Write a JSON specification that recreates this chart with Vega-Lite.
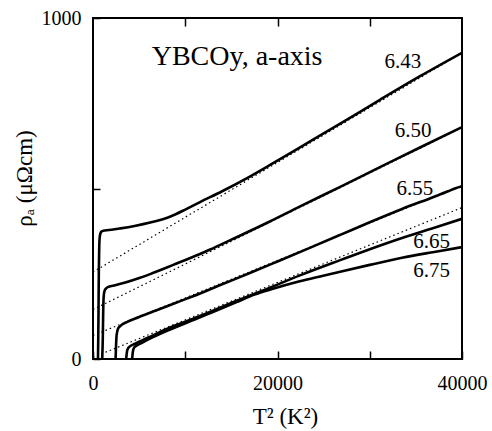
{
  "$schema": "https://vega.github.io/schema/vega-lite/v6.json",
  "width": 369,
  "height": 341,
  "autosize": {"type": "none"},
  "padding": {"left": 93, "top": 18, "right": 30, "bottom": 72},
  "background": "white",
  "config": {
    "view": {"stroke": "black", "strokeWidth": 2},
    "font": "Liberation Serif",
    "axis": {"domain": false, "grid": false, "tickColor": "black", "tickWidth": 1.5, "labelColor": "black", "titleColor": "black", "labelFont": "Liberation Serif", "titleFont": "Liberation Serif", "labelFontSize": 20, "titleFontSize": 23, "titleFontWeight": "normal"}
  },
  "datasets": {
    "solid": [
      {"s": "6.43", "x": 540, "y": 0}, {"s": "6.43", "x": 570, "y": 60}, {"s": "6.43", "x": 600, "y": 150}, {"s": "6.43", "x": 630, "y": 250}, {"s": "6.43", "x": 670, "y": 320}, {"s": "6.43", "x": 720, "y": 355}, {"s": "6.43", "x": 800, "y": 368}, {"s": "6.43", "x": 950, "y": 374}, {"s": "6.43", "x": 1300, "y": 377}, {"s": "6.43", "x": 2000, "y": 379}, {"s": "6.43", "x": 3000, "y": 383}, {"s": "6.43", "x": 4500, "y": 390}, {"s": "6.43", "x": 6200, "y": 400}, {"s": "6.43", "x": 8400, "y": 418}, {"s": "6.43", "x": 10000, "y": 438}, {"s": "6.43", "x": 11600, "y": 460}, {"s": "6.43", "x": 14000, "y": 492}, {"s": "6.43", "x": 17000, "y": 535}, {"s": "6.43", "x": 19200, "y": 569}, {"s": "6.43", "x": 22400, "y": 620}, {"s": "6.43", "x": 26800, "y": 690}, {"s": "6.43", "x": 31100, "y": 760}, {"s": "6.43", "x": 35500, "y": 830}, {"s": "6.43", "x": 40000, "y": 898},
      {"s": "6.50", "x": 1000, "y": 0}, {"s": "6.50", "x": 1060, "y": 60}, {"s": "6.50", "x": 1100, "y": 130}, {"s": "6.50", "x": 1150, "y": 180}, {"s": "6.50", "x": 1250, "y": 200}, {"s": "6.50", "x": 1450, "y": 208}, {"s": "6.50", "x": 1700, "y": 212}, {"s": "6.50", "x": 2400, "y": 216}, {"s": "6.50", "x": 3500, "y": 224}, {"s": "6.50", "x": 5100, "y": 238}, {"s": "6.50", "x": 6200, "y": 249}, {"s": "6.50", "x": 8700, "y": 276}, {"s": "6.50", "x": 11600, "y": 308}, {"s": "6.50", "x": 12700, "y": 321}, {"s": "6.50", "x": 15000, "y": 350}, {"s": "6.50", "x": 19000, "y": 401}, {"s": "6.50", "x": 22400, "y": 447}, {"s": "6.50", "x": 26800, "y": 505}, {"s": "6.50", "x": 31000, "y": 561}, {"s": "6.50", "x": 35500, "y": 621}, {"s": "6.50", "x": 40000, "y": 680},
      {"s": "6.55", "x": 2450, "y": 0}, {"s": "6.55", "x": 2500, "y": 40}, {"s": "6.55", "x": 2560, "y": 70}, {"s": "6.55", "x": 2700, "y": 88}, {"s": "6.55", "x": 2930, "y": 96}, {"s": "6.55", "x": 3650, "y": 108}, {"s": "6.55", "x": 5000, "y": 123}, {"s": "6.55", "x": 6900, "y": 143}, {"s": "6.55", "x": 9000, "y": 165}, {"s": "6.55", "x": 11600, "y": 192}, {"s": "6.55", "x": 14000, "y": 219}, {"s": "6.55", "x": 17000, "y": 252}, {"s": "6.55", "x": 20000, "y": 286}, {"s": "6.55", "x": 23500, "y": 326}, {"s": "6.55", "x": 26800, "y": 364}, {"s": "6.55", "x": 30000, "y": 401}, {"s": "6.55", "x": 33500, "y": 440}, {"s": "6.55", "x": 37000, "y": 476}, {"s": "6.55", "x": 38500, "y": 492}, {"s": "6.55", "x": 39300, "y": 501}, {"s": "6.55", "x": 40000, "y": 506},
      {"s": "6.65", "x": 3600, "y": 0}, {"s": "6.65", "x": 3640, "y": 12}, {"s": "6.65", "x": 3700, "y": 24}, {"s": "6.65", "x": 3800, "y": 31}, {"s": "6.65", "x": 4000, "y": 37}, {"s": "6.65", "x": 4500, "y": 44}, {"s": "6.65", "x": 6000, "y": 63}, {"s": "6.65", "x": 8000, "y": 88}, {"s": "6.65", "x": 11600, "y": 126}, {"s": "6.65", "x": 13000, "y": 142}, {"s": "6.65", "x": 15500, "y": 170}, {"s": "6.65", "x": 18800, "y": 205}, {"s": "6.65", "x": 22500, "y": 246}, {"s": "6.65", "x": 26800, "y": 290}, {"s": "6.65", "x": 30000, "y": 322}, {"s": "6.65", "x": 33500, "y": 355}, {"s": "6.65", "x": 37000, "y": 385}, {"s": "6.65", "x": 40000, "y": 411},
      {"s": "6.75", "x": 4250, "y": 0}, {"s": "6.75", "x": 4290, "y": 14}, {"s": "6.75", "x": 4350, "y": 26}, {"s": "6.75", "x": 4450, "y": 33}, {"s": "6.75", "x": 4650, "y": 38}, {"s": "6.75", "x": 5200, "y": 46}, {"s": "6.75", "x": 6500, "y": 64}, {"s": "6.75", "x": 8500, "y": 88}, {"s": "6.75", "x": 11600, "y": 122}, {"s": "6.75", "x": 13000, "y": 138}, {"s": "6.75", "x": 15500, "y": 166}, {"s": "6.75", "x": 17500, "y": 189}, {"s": "6.75", "x": 19500, "y": 206}, {"s": "6.75", "x": 22000, "y": 225}, {"s": "6.75", "x": 24500, "y": 241}, {"s": "6.75", "x": 26800, "y": 256}, {"s": "6.75", "x": 30000, "y": 276}, {"s": "6.75", "x": 33500, "y": 297}, {"s": "6.75", "x": 37000, "y": 314}, {"s": "6.75", "x": 40000, "y": 328}
    ],
    "dotted": [
      {"s": "6.43", "x": 0, "y": 255}, {"s": "6.43", "x": 40000, "y": 898},
      {"s": "6.50", "x": 0, "y": 145}, {"s": "6.50", "x": 40000, "y": 679},
      {"s": "6.55", "x": 0, "y": 69}, {"s": "6.55", "x": 40000, "y": 509},
      {"s": "6.65", "x": 0, "y": 5}, {"s": "6.65", "x": 40000, "y": 444}
    ],
    "labels": [
      {"label": "6.43", "x": 33600, "y": 852},
      {"label": "6.50", "x": 34690, "y": 652},
      {"label": "6.55", "x": 34900, "y": 481},
      {"label": "6.65", "x": 36710, "y": 325},
      {"label": "6.75", "x": 36710, "y": 241}
    ],
    "title": [
      {"label": "YBCOy, a-axis", "x": 6360, "y": 862}
    ]
  },
  "resolve": {"axis": {"x": "independent", "y": "independent"}},
  "layer": [
    {
      "data": {"name": "solid"},
      "mark": {"type": "line", "color": "black", "strokeWidth": 2.6, "clip": true, "interpolate": "monotone"},
      "encoding": {
        "x": {"field": "x", "type": "quantitative", "scale": {"domain": [0, 40000], "nice": false}, "title": "T² (K²)",
          "axis": {"orient": "bottom", "values": [0, 10000, 20000, 30000, 40000], "labelExpr": "datum.value % 20000 === 0 ? datum.label : ''", "format": "d", "tickSize": -8, "labelPadding": 22, "titlePadding": 12, "titleX": 192, "labelFlush": false}},
        "y": {"field": "y", "type": "quantitative", "scale": {"domain": [0, 1000], "nice": false}, "title": "ρₐ (μΩcm)",
          "axis": {"orient": "left", "values": [0, 500, 1000], "labelExpr": "datum.value === 500 ? '' : datum.label", "format": "d", "tickSize": -7, "labelPadding": 19, "titlePadding": 5, "titleY": 160}},
        "detail": {"field": "s", "type": "nominal"}
      }
    },
    {
      "data": {"name": "dotted"},
      "mark": {"type": "line", "color": "black", "strokeWidth": 1.2, "strokeDash": [1.5, 3], "clip": true},
      "encoding": {
        "x": {"field": "x", "type": "quantitative",
          "axis": {"orient": "top", "values": [10000, 20000, 30000], "labels": false, "title": null, "tickSize": -8}},
        "y": {"field": "y", "type": "quantitative", "axis": null},
        "detail": {"field": "s", "type": "nominal"}
      }
    },
    {
      "data": {"name": "labels"},
      "mark": {"type": "text", "font": "Liberation Serif", "fontSize": 21, "align": "center", "baseline": "alphabetic", "color": "black"},
      "encoding": {
        "x": {"field": "x", "type": "quantitative", "axis": null},
        "y": {"field": "y", "type": "quantitative", "axis": null},
        "text": {"field": "label"}
      }
    },
    {
      "data": {"name": "title"},
      "mark": {"type": "text", "font": "Liberation Serif", "fontSize": 28, "align": "left", "baseline": "alphabetic", "color": "black"},
      "encoding": {
        "x": {"field": "x", "type": "quantitative", "axis": null},
        "y": {"field": "y", "type": "quantitative", "axis": null},
        "text": {"field": "label"}
      }
    }
  ]
}
